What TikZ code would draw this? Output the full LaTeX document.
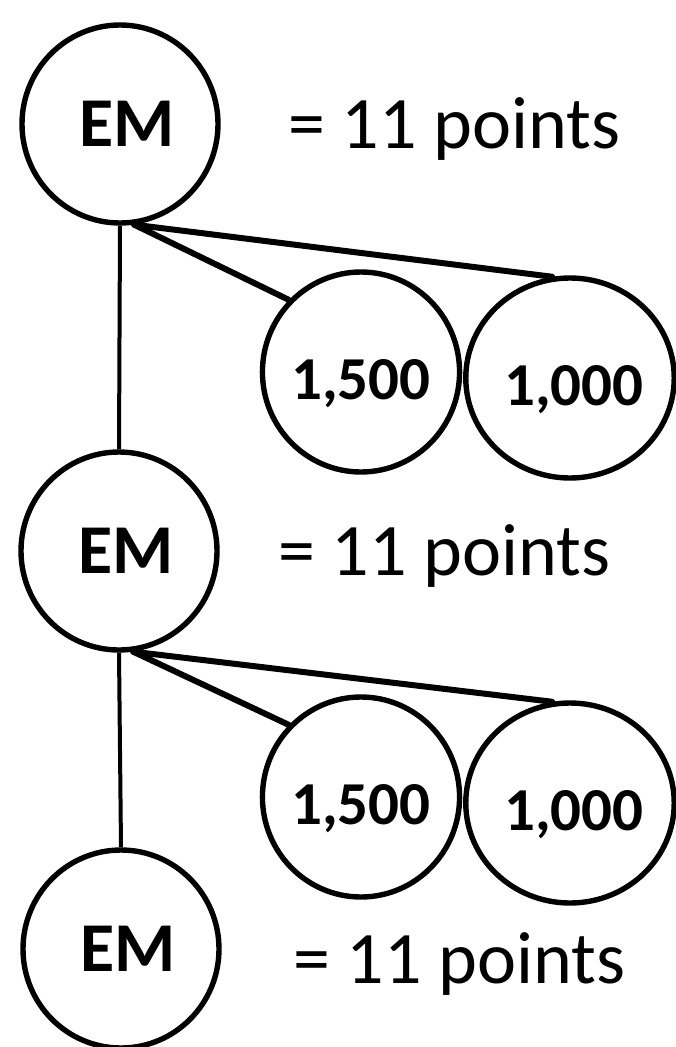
\documentclass[tikz,border=0pt]{standalone}
\usepackage{fontspec}
\setmainfont{Carlito}
\usetikzlibrary{shapes.geometric}
\begin{document}
\begin{tikzpicture}[x=1pt,y=-1pt,
  bubble/.style={draw, ellipse, line width=5.4pt, inner sep=0pt, minimum width=196pt, minimum height=198pt},
  emtext/.style={font=\fontsize{70}{70}\selectfont\bfseries, text height=45pt, text depth=0pt},
  numtext/.style={font=\fontsize{61}{61}\selectfont\bfseries, text height=54pt, text depth=0pt},
  pts/.style={font=\fontsize{74}{74}\selectfont, anchor=base west, inner sep=0pt},
  link/.style={line width=6pt, line cap=round},
  stem/.style={line width=4pt}]
\path[use as bounding box] (0,0) rectangle (676,1047);
% EM nodes
\node[bubble, emtext] (em1) at (120,124) {\hspace*{14pt}EM};
\node[bubble, emtext] (em2) at (119,551) {\hspace*{14pt}EM};
\node[bubble, emtext] (em3) at (121,949) {\hspace*{14pt}EM};
% point labels
\node[pts] (p1) at (288,148) {= 11 points};
\node[pts] (p2) at (278,575) {= 11 points};
\node[pts] (p3) at (293,983) {= 11 points};
% value bubbles
\node[bubble, numtext, minimum height=200pt] (a1) at (361,372) {1,500};
\node[bubble, numtext, minimum height=200pt] (b1) at (570,378) {\hspace*{8pt}1,000};
\node[bubble, numtext, minimum height=200pt] (a2) at (361,797) {1,500};
\node[bubble, numtext, minimum height=200pt] (b2) at (570,803) {\hspace*{8pt}1,000};
% connectors
\draw[stem] (em1.south) -- (em2.north);
\draw[stem] (em2.south) -- (em3.north);
\draw[link] (em1.-82) -- (a1.135);
\draw[link] (em1.-82) -- (b1.100);
\draw[link] (em2.-82) -- (a2.135);
\draw[link] (em2.-82) -- (b2.100);
\end{tikzpicture}
\end{document}
